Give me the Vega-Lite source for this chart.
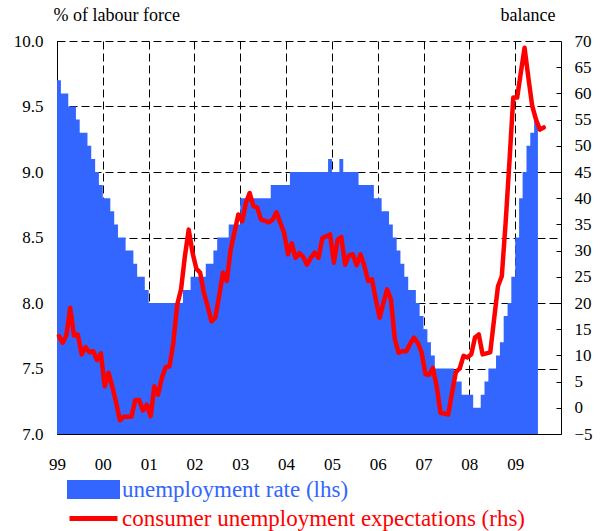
{
  "$schema": "https://vega.github.io/schema/vega-lite/v6.json",
  "width": 504,
  "height": 393,
  "autosize": "none",
  "padding": {"left": 57, "top": 41, "right": 47, "bottom": 97},
  "background": "white",
  "config": {
    "view": {"stroke": null},
    "font": "Liberation Serif",
    "axis": {
      "labelFont": "Liberation Serif",
      "labelFontSize": 17,
      "labelColor": "#000",
      "domainColor": "#000",
      "tickColor": "#000",
      "tickSize": -5,
      "gridColor": "#000",
      "gridDash": [8, 4],
      "gridOpacity": 1,
      "titleFont": "Liberation Serif",
      "titleFontSize": 18,
      "titleFontWeight": "normal",
      "titleColor": "#000"
    }
  },
  "data": {
    "values": [
      {"date": "1999-01-01", "u": 9.7, "e": 13.7},
      {"date": "1999-02-01", "u": 9.6, "e": 12.4},
      {"date": "1999-03-01", "u": 9.6, "e": 13.8},
      {"date": "1999-04-01", "u": 9.5, "e": 19.1},
      {"date": "1999-05-01", "u": 9.5, "e": 13.8},
      {"date": "1999-06-01", "u": 9.4, "e": 14.0},
      {"date": "1999-07-01", "u": 9.3, "e": 10.2},
      {"date": "1999-08-01", "u": 9.3, "e": 11.6},
      {"date": "1999-09-01", "u": 9.2, "e": 10.6},
      {"date": "1999-10-01", "u": 9.1, "e": 10.8},
      {"date": "1999-11-01", "u": 9.0, "e": 9.1},
      {"date": "1999-12-01", "u": 8.9, "e": 10.4},
      {"date": "2000-01-01", "u": 8.8, "e": 4.1},
      {"date": "2000-02-01", "u": 8.8, "e": 6.7},
      {"date": "2000-03-01", "u": 8.7, "e": 4.1},
      {"date": "2000-04-01", "u": 8.6, "e": 1.0},
      {"date": "2000-05-01", "u": 8.5, "e": -2.4},
      {"date": "2000-06-01", "u": 8.5, "e": -1.7},
      {"date": "2000-07-01", "u": 8.4, "e": -1.7},
      {"date": "2000-08-01", "u": 8.4, "e": -1.7},
      {"date": "2000-09-01", "u": 8.3, "e": 1.5},
      {"date": "2000-10-01", "u": 8.2, "e": 1.5},
      {"date": "2000-11-01", "u": 8.2, "e": -0.5},
      {"date": "2000-12-01", "u": 8.1, "e": 0.6},
      {"date": "2001-01-01", "u": 8.0, "e": -1.6},
      {"date": "2001-02-01", "u": 8.0, "e": 4.1},
      {"date": "2001-03-01", "u": 8.0, "e": 2.5},
      {"date": "2001-04-01", "u": 8.0, "e": 5.7},
      {"date": "2001-05-01", "u": 8.0, "e": 7.8},
      {"date": "2001-06-01", "u": 8.0, "e": 7.9},
      {"date": "2001-07-01", "u": 8.0, "e": 12.4},
      {"date": "2001-08-01", "u": 8.0, "e": 19.7},
      {"date": "2001-09-01", "u": 8.0, "e": 22.6},
      {"date": "2001-10-01", "u": 8.1, "e": 28.9},
      {"date": "2001-11-01", "u": 8.1, "e": 34.0},
      {"date": "2001-12-01", "u": 8.2, "e": 29.6},
      {"date": "2002-01-01", "u": 8.2, "e": 26.5},
      {"date": "2002-02-01", "u": 8.2, "e": 25.8},
      {"date": "2002-03-01", "u": 8.2, "e": 22.0},
      {"date": "2002-04-01", "u": 8.3, "e": 19.4},
      {"date": "2002-05-01", "u": 8.3, "e": 16.5},
      {"date": "2002-06-01", "u": 8.4, "e": 17.2},
      {"date": "2002-07-01", "u": 8.5, "e": 21.3},
      {"date": "2002-08-01", "u": 8.5, "e": 25.8},
      {"date": "2002-09-01", "u": 8.5, "e": 24.2},
      {"date": "2002-10-01", "u": 8.6, "e": 30.2},
      {"date": "2002-11-01", "u": 8.6, "e": 33.5},
      {"date": "2002-12-01", "u": 8.6, "e": 36.9},
      {"date": "2003-01-01", "u": 8.8, "e": 35.6},
      {"date": "2003-02-01", "u": 8.8, "e": 39.1},
      {"date": "2003-03-01", "u": 8.8, "e": 41.0},
      {"date": "2003-04-01", "u": 8.8, "e": 38.5},
      {"date": "2003-05-01", "u": 8.8, "e": 38.2},
      {"date": "2003-06-01", "u": 8.8, "e": 35.9},
      {"date": "2003-07-01", "u": 8.8, "e": 35.7},
      {"date": "2003-08-01", "u": 8.8, "e": 35.4},
      {"date": "2003-09-01", "u": 8.9, "e": 35.9},
      {"date": "2003-10-01", "u": 8.9, "e": 37.3},
      {"date": "2003-11-01", "u": 8.9, "e": 35.3},
      {"date": "2003-12-01", "u": 8.9, "e": 33.4},
      {"date": "2004-01-01", "u": 8.9, "e": 29.3},
      {"date": "2004-02-01", "u": 9.0, "e": 31.4},
      {"date": "2004-03-01", "u": 9.0, "e": 28.6},
      {"date": "2004-04-01", "u": 9.0, "e": 29.5},
      {"date": "2004-05-01", "u": 9.0, "e": 28.8},
      {"date": "2004-06-01", "u": 9.0, "e": 27.3},
      {"date": "2004-07-01", "u": 9.0, "e": 28.6},
      {"date": "2004-08-01", "u": 9.0, "e": 29.6},
      {"date": "2004-09-01", "u": 9.0, "e": 28.6},
      {"date": "2004-10-01", "u": 9.0, "e": 32.4},
      {"date": "2004-11-01", "u": 9.0, "e": 32.7},
      {"date": "2004-12-01", "u": 9.1, "e": 33.1},
      {"date": "2005-01-01", "u": 9.0, "e": 27.7},
      {"date": "2005-02-01", "u": 9.0, "e": 32.1},
      {"date": "2005-03-01", "u": 9.1, "e": 32.6},
      {"date": "2005-04-01", "u": 9.0, "e": 27.3},
      {"date": "2005-05-01", "u": 9.0, "e": 29.1},
      {"date": "2005-06-01", "u": 9.0, "e": 29.3},
      {"date": "2005-07-01", "u": 9.0, "e": 27.2},
      {"date": "2005-08-01", "u": 8.9, "e": 29.3},
      {"date": "2005-09-01", "u": 8.9, "e": 27.1},
      {"date": "2005-10-01", "u": 8.9, "e": 24.2},
      {"date": "2005-11-01", "u": 8.9, "e": 24.5},
      {"date": "2005-12-01", "u": 8.8, "e": 20.7},
      {"date": "2006-01-01", "u": 8.8, "e": 17.2},
      {"date": "2006-02-01", "u": 8.7, "e": 20.0},
      {"date": "2006-03-01", "u": 8.7, "e": 22.6},
      {"date": "2006-04-01", "u": 8.6, "e": 20.7},
      {"date": "2006-05-01", "u": 8.5, "e": 13.2},
      {"date": "2006-06-01", "u": 8.4, "e": 10.5},
      {"date": "2006-07-01", "u": 8.3, "e": 10.8},
      {"date": "2006-08-01", "u": 8.2, "e": 10.8},
      {"date": "2006-09-01", "u": 8.1, "e": 12.2},
      {"date": "2006-10-01", "u": 8.1, "e": 13.4},
      {"date": "2006-11-01", "u": 8.0, "e": 12.4},
      {"date": "2006-12-01", "u": 7.9, "e": 10.6},
      {"date": "2007-01-01", "u": 7.8, "e": 6.4},
      {"date": "2007-02-01", "u": 7.7, "e": 6.3},
      {"date": "2007-03-01", "u": 7.6, "e": 7.6},
      {"date": "2007-04-01", "u": 7.5, "e": 4.1},
      {"date": "2007-05-01", "u": 7.5, "e": -1.0},
      {"date": "2007-06-01", "u": 7.5, "e": -1.1},
      {"date": "2007-07-01", "u": 7.5, "e": -1.3},
      {"date": "2007-08-01", "u": 7.5, "e": 2.9},
      {"date": "2007-09-01", "u": 7.4, "e": 6.8},
      {"date": "2007-10-01", "u": 7.4, "e": 7.5},
      {"date": "2007-11-01", "u": 7.3, "e": 9.9},
      {"date": "2007-12-01", "u": 7.3, "e": 9.6},
      {"date": "2008-01-01", "u": 7.3, "e": 10.2},
      {"date": "2008-02-01", "u": 7.2, "e": 13.4},
      {"date": "2008-03-01", "u": 7.2, "e": 14.0},
      {"date": "2008-04-01", "u": 7.3, "e": 10.2},
      {"date": "2008-05-01", "u": 7.4, "e": 10.4},
      {"date": "2008-06-01", "u": 7.5, "e": 10.6},
      {"date": "2008-07-01", "u": 7.5, "e": 16.9},
      {"date": "2008-08-01", "u": 7.6, "e": 23.2},
      {"date": "2008-09-01", "u": 7.7, "e": 25.1},
      {"date": "2008-10-01", "u": 7.9, "e": 35.3},
      {"date": "2008-11-01", "u": 8.0, "e": 47.0},
      {"date": "2008-12-01", "u": 8.2, "e": 59.2},
      {"date": "2009-01-01", "u": 8.5, "e": 59.2},
      {"date": "2009-02-01", "u": 8.8, "e": 64.0},
      {"date": "2009-03-01", "u": 9.0, "e": 68.7},
      {"date": "2009-04-01", "u": 9.2, "e": 63.0},
      {"date": "2009-05-01", "u": 9.3, "e": 57.6},
      {"date": "2009-06-01", "u": 9.4, "e": 55.0},
      {"date": "2009-07-01", "u": 9.4, "e": 53.1},
      {"date": "2009-08-01", "u": null, "e": 53.5}
    ]
  },
  "layer": [
    {
      "mark": {"type": "area", "interpolate": "step-after", "clip": true},
      "encoding": {
        "x": {
          "field": "date",
          "timeUnit": "utcyearmonth",
          "type": "temporal",
          "bandPosition": 0,
          "scale": {
            "domain": [
              {"year": 1999, "month": 1, "date": 1, "utc": true},
              {"year": 2010, "month": 1, "date": 1, "utc": true}
            ]
          },
          "axis": {
            "title": null,
            "values": [
              {"year": 1999, "month": 1, "date": 1, "utc": true},
              {"year": 2000, "month": 1, "date": 1, "utc": true},
              {"year": 2001, "month": 1, "date": 1, "utc": true},
              {"year": 2002, "month": 1, "date": 1, "utc": true},
              {"year": 2003, "month": 1, "date": 1, "utc": true},
              {"year": 2004, "month": 1, "date": 1, "utc": true},
              {"year": 2005, "month": 1, "date": 1, "utc": true},
              {"year": 2006, "month": 1, "date": 1, "utc": true},
              {"year": 2007, "month": 1, "date": 1, "utc": true},
              {"year": 2008, "month": 1, "date": 1, "utc": true},
              {"year": 2009, "month": 1, "date": 1, "utc": true}
            ],
            "format": "%y",
            "grid": true,
            "labelFont": "Liberation Serif",
            "labelFontSize": 17,
            "labelPadding": 27,
            "labelFlush": false,
            "labelOverlap": false
          }
        },
        "y": {
          "field": "u",
          "type": "quantitative",
          "scale": {"domain": [7, 10], "nice": false, "zero": false},
          "axis": {
            "values": [7, 7.5, 8, 8.5, 9, 9.5, 10],
            "format": ".1f",
            "grid": true,
            "labelFont": "Liberation Serif",
            "labelFontSize": 17,
            "labelPadding": 19,
            "title": "% of labour force",
            "titleFont": "Liberation Serif",
            "titleFontSize": 18,
            "titleFontWeight": "normal",
            "titleAngle": 0,
            "titleAlign": "left",
            "titleBaseline": "middle",
            "titleX": -4,
            "titleY": -26
          }
        },
        "y2": {"datum": 7},
        "color": {
          "datum": "unemployment rate (lhs)",
          "type": "nominal",
          "scale": {
            "domain": ["unemployment rate (lhs)", "consumer unemployment expectations (rhs)"],
            "range": ["#3366ff", "#ff0000"]
          },
          "legend": {
            "title": null,
            "orient": "none",
            "legendX": 25,
            "legendY": 437,
            "direction": "vertical",
            "symbolSize": 100,
            "symbolStrokeWidth": 0,
            "labelFont": "Liberation Serif",
            "labelFontSize": 23,
            "labelOffset": 17,
            "labelLimit": 0,
            "rowPadding": 0,
            "encode": {
              "symbols": {
                "update": {
                  "shape": {"signal": "datum.value === 'unemployment rate (lhs)' ? 'M-4.8,-1.4H4.8V1.4H-4.8Z' : 'M-4.8,0H4.8'"},
                  "fill": {"signal": "datum.value === 'unemployment rate (lhs)' ? '#3366ff' : 'transparent'"},
                  "stroke": {"signal": "datum.value === 'unemployment rate (lhs)' ? 'transparent' : '#ff0000'"},
                  "strokeWidth": {"value": 5},
                  "opacity": {"value": 1}
                }
              },
              "labels": {
                "update": {
                  "fill": {"signal": "datum.value === 'unemployment rate (lhs)' ? '#3366ff' : '#ff0000'"}
                }
              }
            }
          }
        }
      }
    },
    {
      "mark": {"type": "line", "strokeWidth": 4.5, "strokeJoin": "round", "strokeCap": "round"},
      "encoding": {
        "x": {"field": "date", "timeUnit": "utcyearmonth", "type": "temporal", "bandPosition": 0.5},
        "y": {
          "field": "e",
          "type": "quantitative",
          "scale": {"domain": [-5, 70], "nice": false, "zero": false},
          "axis": {
            "orient": "right",
            "values": [-5, 0, 5, 10, 15, 20, 25, 30, 35, 40, 45, 50, 55, 60, 65, 70],
            "format": "d",
            "grid": false,
            "labelFont": "Liberation Serif",
            "labelFontSize": 17,
            "labelPadding": 18,
            "title": "balance",
            "titleFont": "Liberation Serif",
            "titleFontSize": 18,
            "titleFontWeight": "normal",
            "titleAngle": 0,
            "titleAlign": "right",
            "titleBaseline": "middle",
            "titleX": -6,
            "titleY": -26
          }
        },
        "color": {"datum": "consumer unemployment expectations (rhs)", "type": "nominal"}
      }
    }
  ],
  "resolve": {"scale": {"y": "independent"}}
}
